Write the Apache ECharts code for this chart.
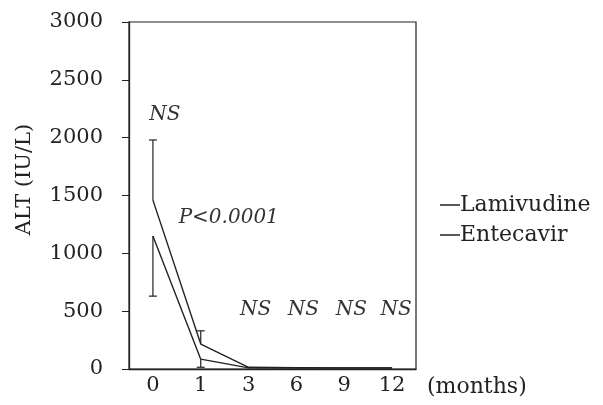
<!DOCTYPE html>
<html><head><meta charset="utf-8">
<script src="https://cdn.jsdelivr.net/npm/echarts@6/dist/echarts.min.js"></script>
<style>html,body{margin:0;padding:0;background:#fff}#c{width:603px;height:405px}</style>
</head><body><div id="c"></div>
<script>
const months = ['0','1','3','6','9','12'];
const lamivudine = [1460, 216, 15, 12, 10, 10];
const entecavir = [1150, 85, 10, 8, 8, 8];
const lamErrHigh = [1980, 330, null, null, null, null];
const entErrLow = [630, 15, null, null, null, null];
const yTicks = [0, 500, 1000, 1500, 2000, 2500, 3000];
const annotations = [
  {cat: '0', y: 2195, text: 'NS'},
  {cat: '1', y: 1305, text: 'P<0.0001'},
  {cat: '3', y: 510, text: 'NS'},
  {cat: '6', y: 510, text: 'NS'},
  {cat: '9', y: 510, text: 'NS'},
  {cat: '12', y: 510, text: 'NS'}
];
const annOffsets = [12, 28, 7, 7, 7, 4];
const FONT = '"DejaVu Serif", "Liberation Serif", serif';
const chart = echarts.init(document.getElementById('c'));

function errBars(base, ends) {
  return base.map((v, i) => ends[i] == null ? null : [i, v, ends[i]]).filter(d => d);
}
function errRender(params, api) {
  const x = api.value(0);
  const p1 = api.coord([x, api.value(1)]);
  const p2 = api.coord([x, api.value(2)]);
  const w = 4;
  const st = {stroke: '#222', lineWidth: 1.2};
  return {type: 'group', children: [
    {type: 'line', shape: {x1: p1[0], y1: p1[1], x2: p2[0], y2: p2[1]}, style: st},
    {type: 'line', shape: {x1: p2[0]-w, y1: p2[1], x2: p2[0]+w, y2: p2[1]}, style: st}
  ]};
}

chart.setOption({
  animation: false,
  backgroundColor: '#fff',
  textStyle: {fontFamily: FONT},
  grid: {left: 129, right: 187, top: 22, bottom: 36, show: true, borderColor: '#222', borderWidth: 1.2},
  legend: {
    left: 435, top: 188, orient: 'vertical', itemGap: 6,
    icon: 'rect', itemWidth: 20, itemHeight: 1.5, itemStyle: {color: '#222'},
    textStyle: {fontFamily: FONT, fontSize: 22, lineHeight: 24, color: '#222', padding: [0, 0, 0, -5]},
    data: ['Lamivudine', 'Entecavir']
  },
  xAxis: {
    type: 'category', data: months, boundaryGap: true,
    axisLine: {lineStyle: {color: '#222', width: 1.3}},
    axisTick: {show: false},
    axisLabel: {fontFamily: FONT, fontSize: 21, color: '#222', margin: 6},
    name: '(months)', nameLocation: 'end', nameGap: 11,
    nameTextStyle: {fontFamily: FONT, fontSize: 22, color: '#222', verticalAlign: 'top', padding: [7, 0, 0, 0]}
  },
  yAxis: {
    type: 'value', min: yTicks[0], max: yTicks[yTicks.length-1], interval: 500,
    axisLine: {show: true, lineStyle: {color: '#222', width: 1.3}},
    axisTick: {show: true, length: 7, lineStyle: {color: '#222'}},
    splitLine: {show: false},
    axisLabel: {fontFamily: FONT, fontSize: 21, color: '#222', margin: 26, formatter: v => String(v)},
    name: 'ALT (IU/L)', nameLocation: 'middle', nameGap: 94, nameRotate: 90,
    nameTextStyle: {fontFamily: FONT, fontSize: 21, color: '#222', padding: [0, 0, 0, 32]}
  },
  series: [
    {name: 'Lamivudine', type: 'line', data: lamivudine, symbol: 'none', color: '#222',
     lineStyle: {color: '#222', width: 1.4},
     markPoint: {
       symbol: 'rect', symbolSize: 0,
       label: {show: true, fontFamily: FONT, fontStyle: 'italic', fontSize: 20, color: '#333'},
       data: annotations.map((a, i) => ({coord: [a.cat, a.y], value: a.text, label: {formatter: a.text, offset: [annOffsets[i], 0]}}))
     }},
    {name: 'Entecavir', type: 'line', data: entecavir, symbol: 'none', color: '#222',
     lineStyle: {color: '#222', width: 1.4}},
    {type: 'custom', renderItem: errRender, data: errBars(lamivudine, lamErrHigh), z: 3},
    {type: 'custom', renderItem: errRender, data: errBars(entecavir, entErrLow), z: 3}
  ]
});
</script></body></html>
